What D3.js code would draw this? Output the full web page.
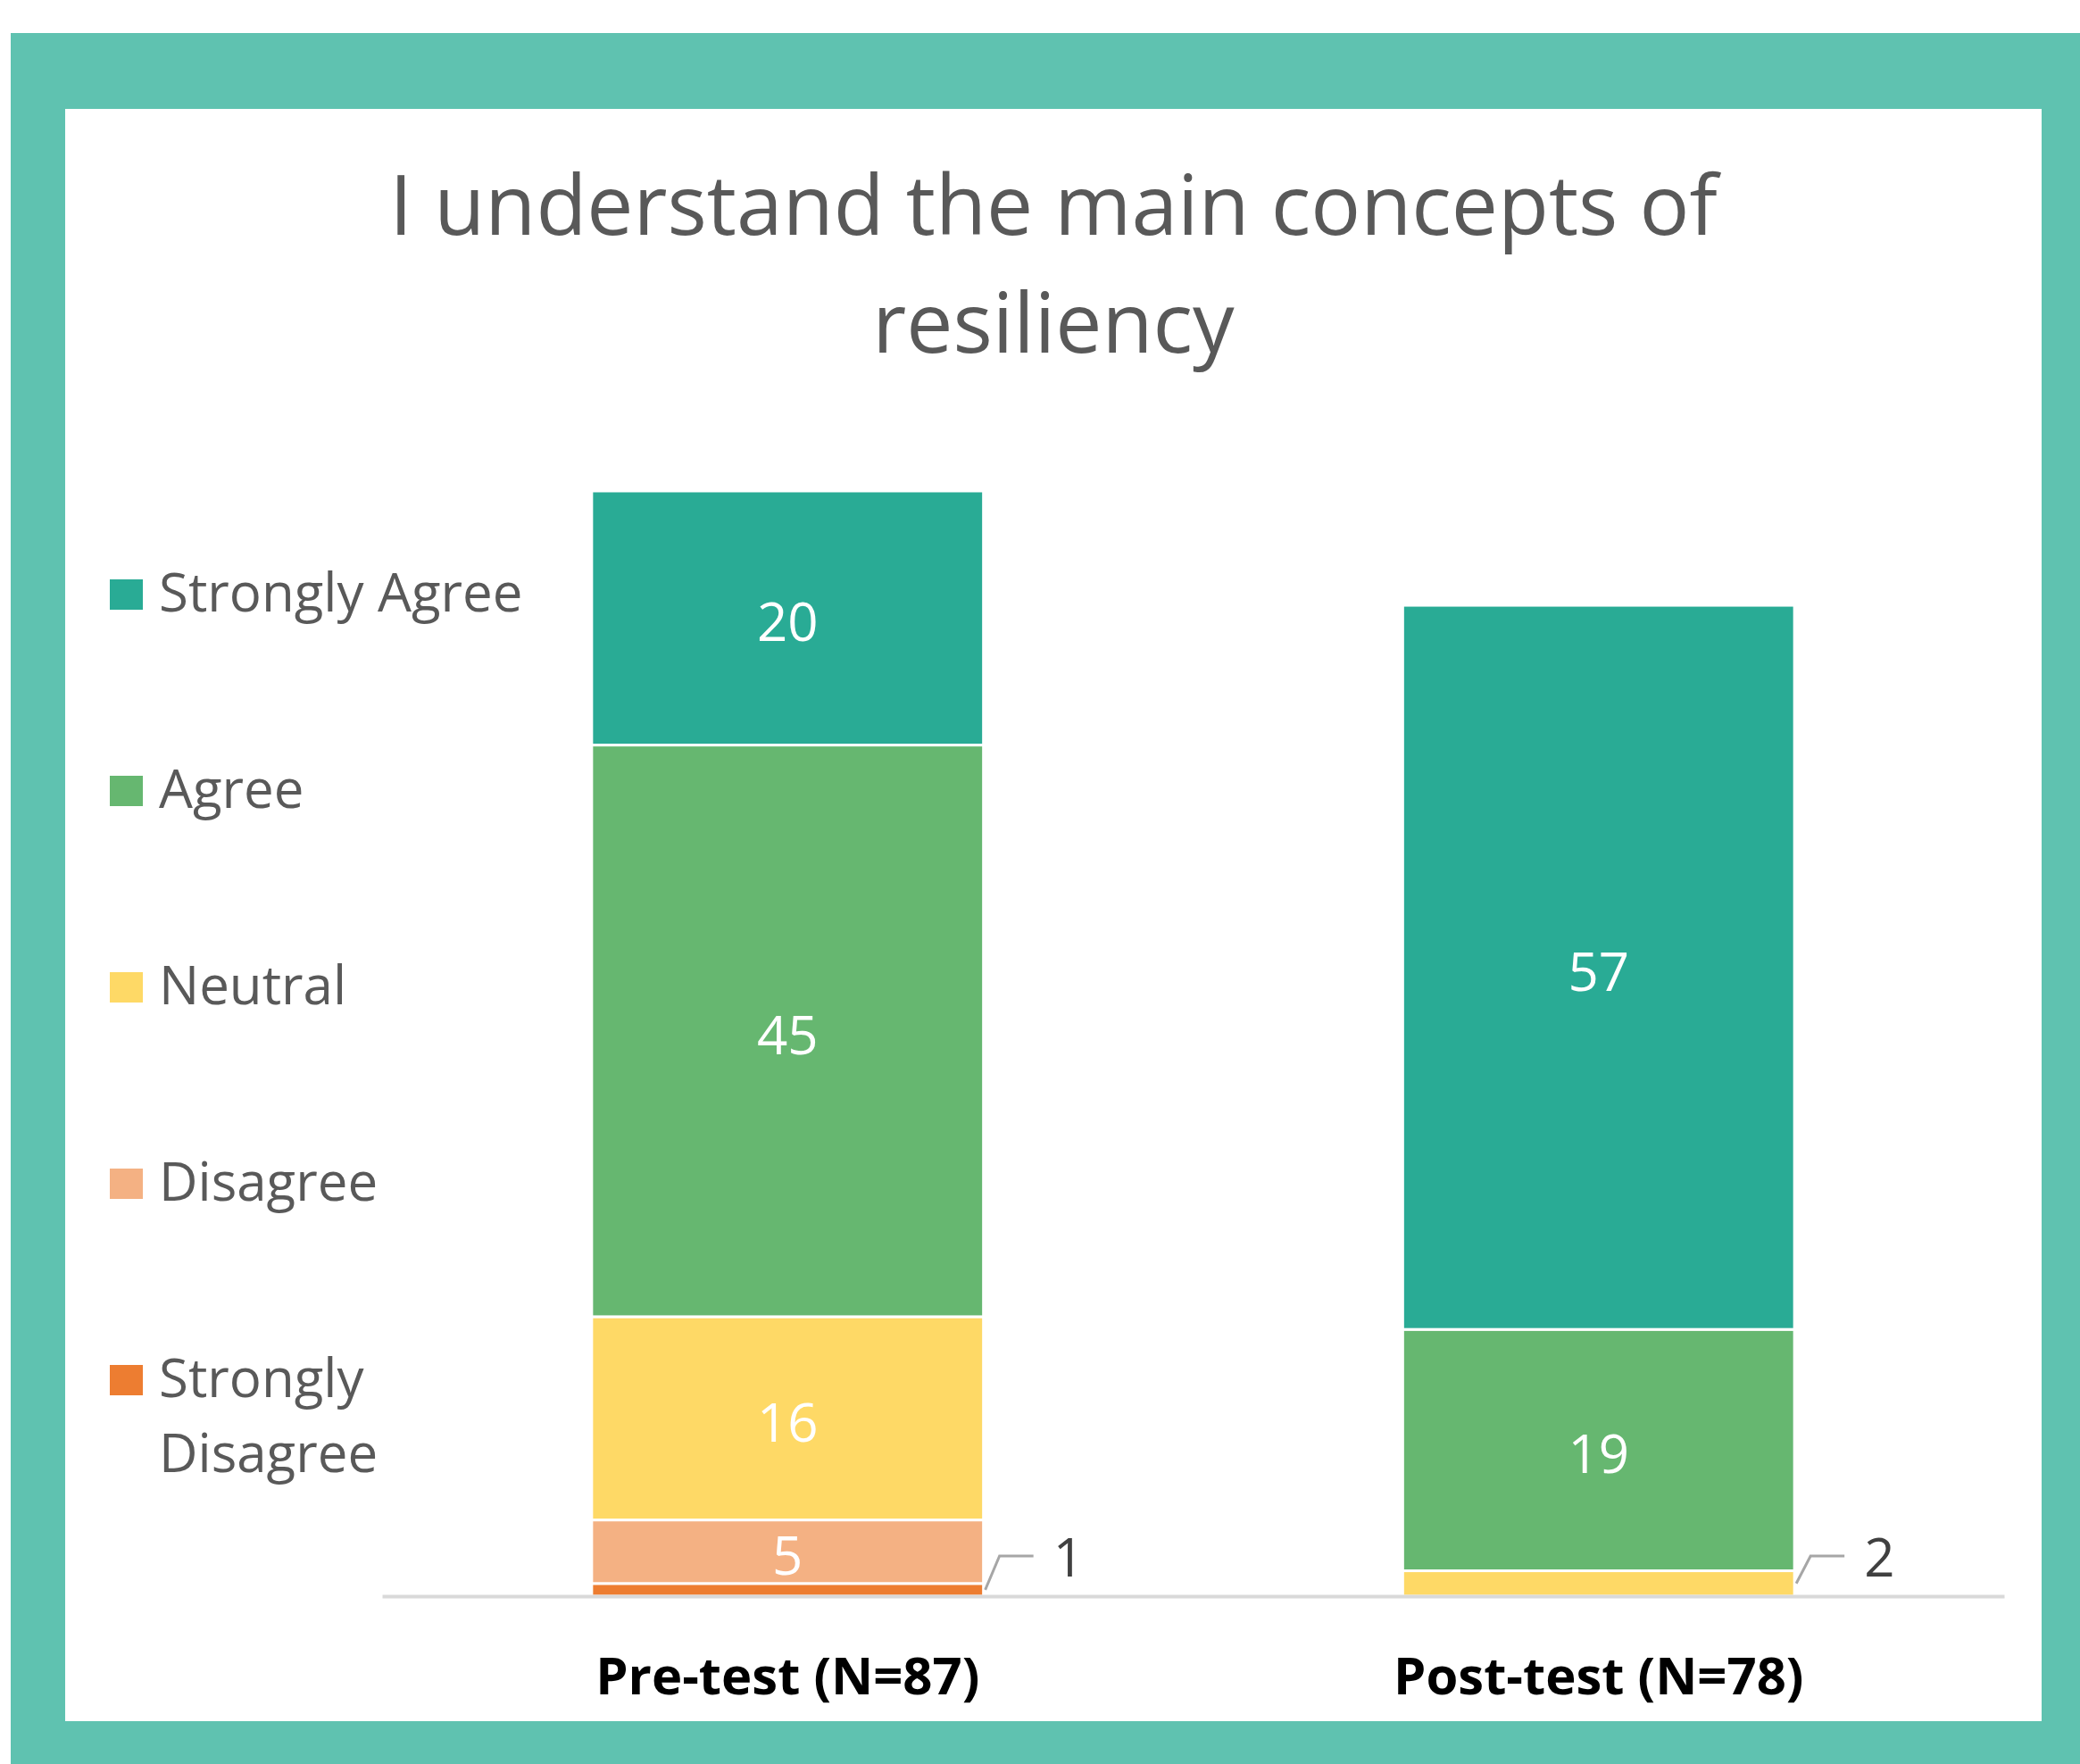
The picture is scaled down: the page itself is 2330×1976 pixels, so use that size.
<!DOCTYPE html>
<html>
<head>
<meta charset="utf-8">
<script src="https://cdn.jsdelivr.net/npm/d3@7"></script>
<style>
  body { margin: 0; background: #fff; }
  text { font-family: "Open Sans", "Noto Sans", sans-serif; }
</style>
</head>
<body>
<script>
// data
const categories = ['Pre-test (N=87)', 'Post-test (N=78)'];
const seriesNames = ['Strongly Disagree', 'Disagree', 'Neutral', 'Agree', 'Strongly Agree'];
const stronglyDisagree = [1, 0];
const disagree = [5, 0];
const neutral = [16, 2];
const agree = [45, 19];
const stronglyAgree = [20, 57];
const titleLines = ['I understand the main concepts of', 'resiliency'];

const colors = ['#ed7d31', '#f4b183', '#fed966', '#66b770', '#29ab95'];

const width = 2330;
const height = 1976;

const rows = categories.map((c, i) => ({
  category: c,
  'Strongly Disagree': stronglyDisagree[i],
  'Disagree': disagree[i],
  'Neutral': neutral[i],
  'Agree': agree[i],
  'Strongly Agree': stronglyAgree[i]
}));

const svg = d3.select('body')
  .append('svg')
  .attr('width', width)
  .attr('height', height);

// frame
svg.append('rect')
  .attr('x', 12).attr('y', 37)
  .attr('width', width - 12).attr('height', height - 37)
  .attr('fill', '#5fc2b0');
svg.append('rect')
  .attr('x', 73).attr('y', 122)
  .attr('width', 2287 - 73).attr('height', 1928 - 122)
  .attr('fill', '#fff');

// title
svg.append('text')
  .attr('x', 1180).attr('y', 263)
  .attr('text-anchor', 'middle')
  .attr('font-size', 93)
  .attr('fill', '#595959')
  .selectAll('tspan')
  .data(titleLines)
  .enter()
  .append('tspan')
  .attr('x', 1180)
  .attr('dy', (d, i) => i === 0 ? 0 : 132)
  .text(d => d);

// scales
const x = d3.scaleBand()
  .domain(categories)
  .range([428, 2245])
  .paddingInner(0.517)
  .paddingOuter(0.2585);

const y = d3.scaleLinear()
  .domain([0, 100])
  .range([1788, 365]);

const color = d3.scaleOrdinal().domain(seriesNames).range(colors);

const stacked = d3.stack().keys(seriesNames)(rows);

// bars
const layers = svg.append('g')
  .selectAll('g')
  .data(stacked)
  .enter()
  .append('g')
  .attr('fill', d => color(d.key));

layers.selectAll('rect')
  .data(d => d.filter(s => s[1] > s[0]))
  .enter()
  .append('rect')
  .attr('x', d => x(d.data.category))
  .attr('y', d => y(d[1]))
  .attr('width', x.bandwidth())
  .attr('height', d => y(d[0]) - y(d[1]))
  .attr('stroke', '#fff')
  .attr('stroke-width', 3);

// axis
const xAxis = svg.append('g')
  .attr('transform', `translate(0,${y(0)})`)
  .call(d3.axisBottom(x).tickSize(0).tickSizeOuter(0));

xAxis.select('.domain')
  .attr('stroke', '#d9d9d9')
  .attr('stroke-width', 4);

xAxis.selectAll('.tick text')
  .attr('y', 110)
  .attr('dy', 0)
  .attr('font-family', '"Open Sans", sans-serif')
  .attr('font-size', 58)
  .attr('font-weight', 'bold')
  .attr('fill', '#000');

// data labels
const labels = svg.append('g');
stacked.forEach(layer => {
  layer.forEach(s => {
    const v = s[1] - s[0];
    if (v <= 0) return;
    const cx = x(s.data.category) + x.bandwidth() / 2;
    const cy = (y(s[0]) + y(s[1])) / 2;
    if (v >= 3) {
      labels.append('text')
        .attr('x', cx).attr('y', cy + 3)
        .attr('text-anchor', 'middle')
        .attr('dominant-baseline', 'central')
        .attr('font-size', 60)
        .attr('fill', '#fff')
        .text(v);
    } else {
      const bx = x(s.data.category) + x.bandwidth() + 2;
      const ly = y(0) - 45;
      labels.append('path')
        .attr('d', `M${bx},${cy}L${bx + 16},${ly}L${bx + 54},${ly}`)
        .attr('fill', 'none')
        .attr('stroke', '#a6a6a6')
        .attr('stroke-width', 3);
      labels.append('text')
        .attr('x', bx + 76).attr('y', ly)
        .attr('dominant-baseline', 'central')
        .attr('font-size', 60)
        .attr('fill', '#404040')
        .text(v);
    }
  });
});

// legend
const legendNames = seriesNames.slice().reverse();
const legend = svg.append('g')
  .selectAll('g')
  .data(legendNames)
  .enter()
  .append('g')
  .attr('transform', (d, i) => `translate(123,${666 + i * 220})`);

legend.append('rect')
  .attr('x', 0).attr('y', -17)
  .attr('width', 37).attr('height', 34)
  .attr('fill', d => color(d));

legend.append('text')
  .attr('x', 55).attr('y', 19)
  .attr('font-size', 60)
  .attr('fill', '#595959')
  .each(function(d) {
    const t = d3.select(this);
    const words = d.split(' ');
    let line = [];
    let tspan = t.append('tspan').attr('x', 55).attr('dy', 0);
    words.forEach(w => {
      line.push(w);
      tspan.text(line.join(' '));
      if (tspan.node().getComputedTextLength() > 450 && line.length > 1) {
        line.pop();
        tspan.text(line.join(' '));
        line = [w];
        tspan = t.append('tspan').attr('x', 55).attr('dy', 84).text(w);
      }
    });
  });
</script>
</body>
</html>
